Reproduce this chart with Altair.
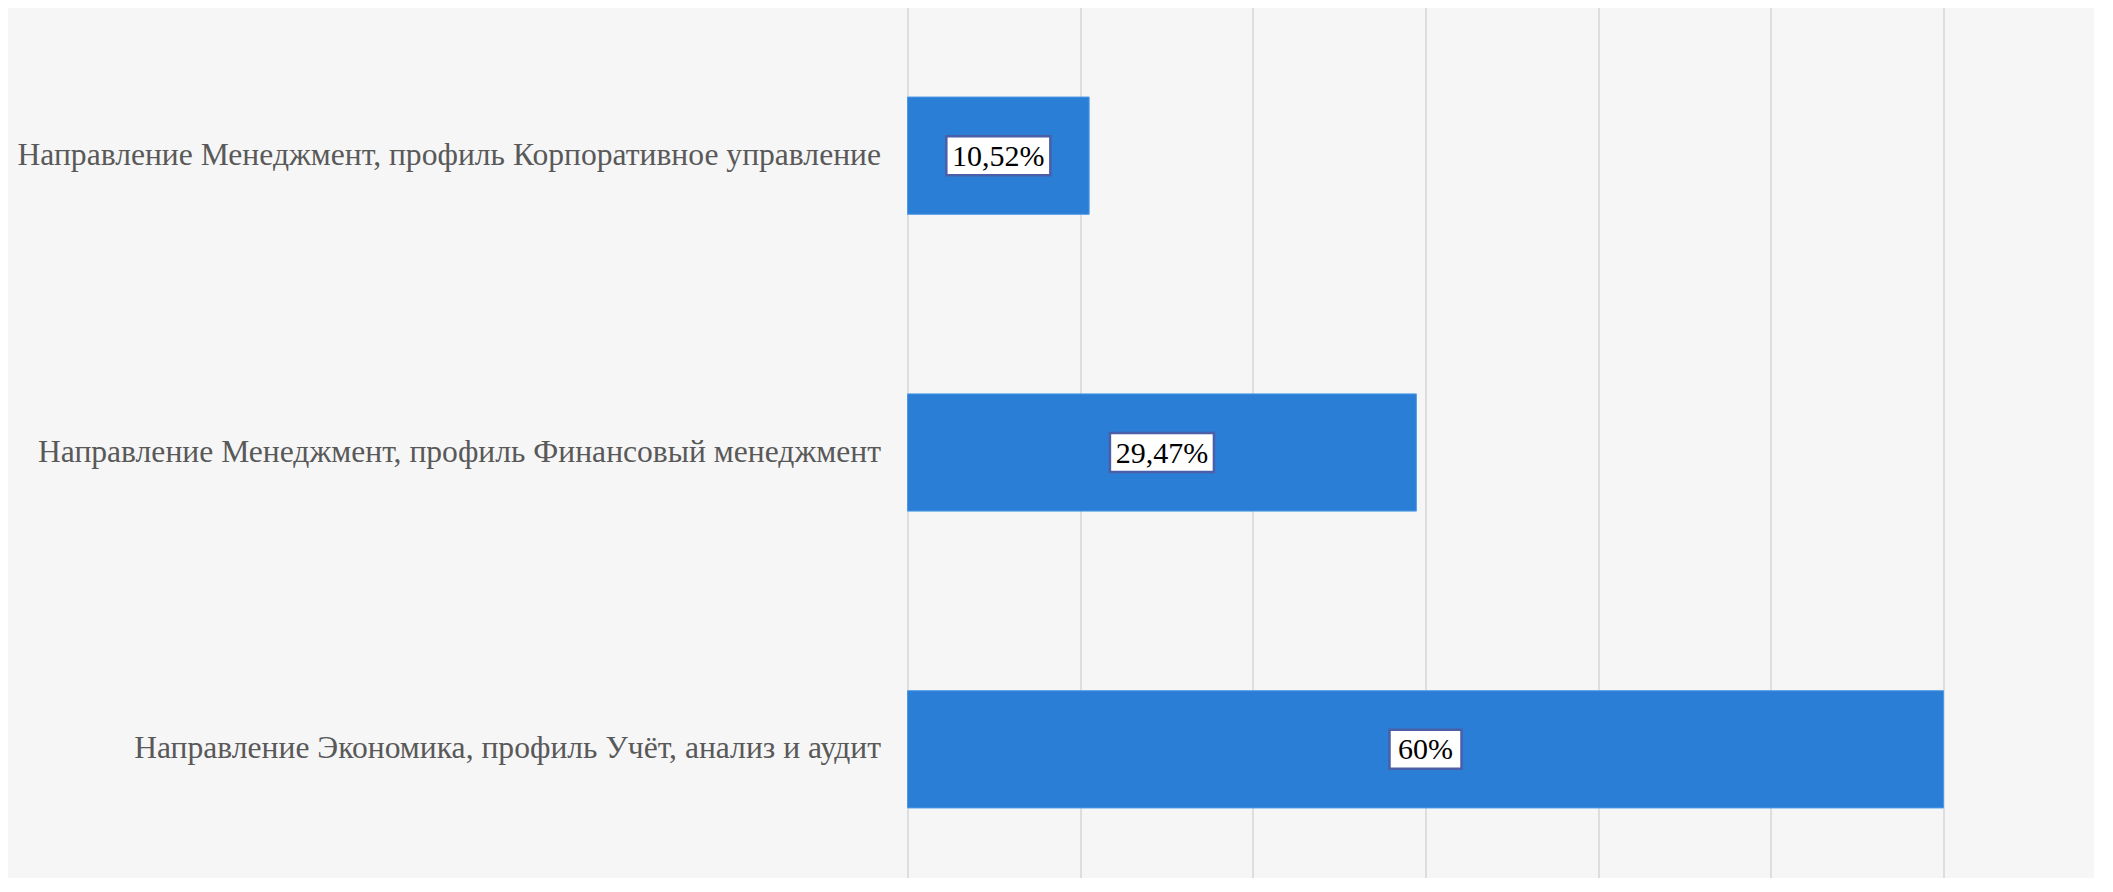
import altair as alt
import pandas as pd

categories = [
    "Направление Менеджмент, профиль Корпоративное управление",
    "Направление Менеджмент, профиль Финансовый менеджмент",
    "Направление Экономика, профиль Учёт, анализ и аудит",
]
values = [10.52, 29.47, 60.0]
value_labels = ["10,52%", "29,47%", "60%"]
grid_values = [0, 10, 20, 30, 40, 50, 60]

df = pd.DataFrame({"cat": categories, "v": values, "lbl": value_labels})

PLOT_W = 1036
PX_PER_UNIT = PLOT_W / 60.0
FONT = "Liberation Serif"

y_enc = alt.Y(
    "cat:N",
    sort=categories,
    scale=alt.Scale(paddingInner=0.605, paddingOuter=0.3, range=[0, 889]),
    axis=alt.Axis(
        title=None, ticks=False, domain=False, grid=False,
        labelPadding=27, labelFontSize=31.6, labelFont=FONT,
        labelColor="#595959", labelLimit=2000,
    ),
)

x_scale = alt.Scale(domain=[0, 60], nice=False, zero=True)

bars = alt.Chart(df).mark_bar(
    color="#2b7ed6", stroke="#4b9ae6", strokeWidth=1
).encode(
    x=alt.X(
        "v:Q", scale=x_scale,
        axis=alt.Axis(
            title=None, labels=False, ticks=False, domain=False,
            grid=True, gridColor="#d6d6d6", gridWidth=1.5, values=grid_values,
        ),
    ),
    y=y_enc,
)

boxes = alt.Chart(df).transform_calculate(
    c="datum.v / 2",
    hw=f"(10.67 * length(datum.lbl) + 40) / 2 / {PX_PER_UNIT}",
).transform_calculate(
    lo="datum.c - datum.hw", hi="datum.c + datum.hw"
).mark_bar(
    height=39, fill="white", stroke="#4a5fa8", strokeWidth=2.5
).encode(
    x=alt.X("lo:Q", scale=x_scale),
    x2="hi:Q",
    y=alt.Y("cat:N", sort=categories),
)

texts = alt.Chart(df).transform_calculate(c="datum.v / 2").mark_text(
    font=FONT, fontSize=30, color="black", baseline="middle", align="center", dy=1
).encode(
    x=alt.X("c:Q", scale=x_scale),
    y=alt.Y("cat:N", sort=categories),
    text="lbl:N",
)

chart = alt.layer(bars, boxes, texts).properties(
    width=PLOT_W,
    height=870,
    autosize=alt.AutoSizeParams(type="none"),
    padding={"left": 899.5, "top": 0, "right": 150, "bottom": 0},
    background="#f6f6f6",
).configure_view(stroke=None)

chart.save("out.html", embed_options={"renderer": "svg", "actions": False})
